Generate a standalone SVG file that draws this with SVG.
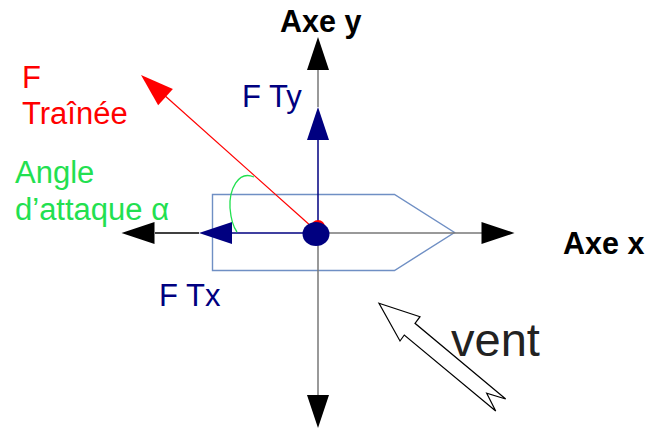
<svg xmlns="http://www.w3.org/2000/svg" width="648" height="428" viewBox="0 0 648 428">
<style>
.t{font-family:"Liberation Sans",Arial,sans-serif;font-size:31px}
.b{font-weight:bold;fill:#000;font-size:30.5px}
.navy{fill:#000080}
.red{fill:#ff0000}
.green{fill:#22e050}
.ln{fill:none;stroke-width:1.5}
</style>
<defs>
<path id="ah" d="M0,0 L-33,-11 L-33,11 Z"/>
</defs>
<rect width="648" height="428" fill="#fff"/>
<g id="boat">
<path d="M212.5,194.5 H394.5 L454.5,232.5 L394.5,270.5 H212.5 Z" fill="none" stroke="#6f8fc4" stroke-width="1.4"/>
</g>
<g id="connectors">
<line class="ln" x1="155" y1="233" x2="199" y2="233" stroke="#000"/>
<line class="ln" x1="230" y1="233" x2="317" y2="233" stroke="#000080"/>
<line class="ln" x1="317" y1="233" x2="482" y2="233" stroke="#777"/>
<line class="ln" x1="318" y1="70" x2="318" y2="107" stroke="#777"/>
<line class="ln" x1="318" y1="138" x2="318" y2="233" stroke="#000080"/>
<line class="ln" x1="318" y1="233" x2="318" y2="396" stroke="#777"/>
<line x1="163" y1="94" x2="312" y2="227" stroke="#ff0000" stroke-width="1.2"/>
<use href="#ah" transform="translate(121.5,233) rotate(180)" fill="#000"/>
<use href="#ah" transform="translate(514.5,233)" fill="#000"/>
<use href="#ah" transform="translate(199,233) rotate(180)" fill="#000080"/>
<use href="#ah" transform="translate(318,37) rotate(-90)" fill="#000"/>
<use href="#ah" transform="translate(318,107) rotate(-90)" fill="#000080"/>
<use href="#ah" transform="translate(318,428) rotate(90)" fill="#000"/>
<use href="#ah" transform="translate(141,75) rotate(222)" fill="#ff0000"/>
<path d="M254,177 C238,170 229,190 230,208 C231,220 234,228 237,232" fill="none" stroke="#22e050" stroke-width="1.3"/>
</g>
<g id="origin">
<circle cx="318" cy="227" r="7" fill="#ff0000"/>
<ellipse cx="316" cy="234" rx="13.5" ry="12" fill="#000080"/>
</g>
<g id="wind">
<path d="M379,303.3 L420,316.7 L415,323.3 L505.7,399 L486.7,393.3 L495.7,411 L404.3,335 L400,341 Z" fill="#fff" stroke="#000" stroke-width="1.2" stroke-linejoin="miter"/>
<text x="451" y="356" font-family="Liberation Sans,Arial,sans-serif" font-size="47" fill="#222">vent</text>
</g>
<g id="labels">
<text class="t b" x="280" y="32">Axe y</text>
<text class="t b" x="563" y="254">Axe x</text>
<text class="t navy" x="242" y="107">F Ty</text>
<text class="t navy" x="159" y="306">F Tx</text>
<text class="t red" x="22" y="88">F</text>
<text class="t red" x="22" y="124">Traînée</text>
<text class="t green" x="15" y="183">Angle</text>
<text class="t green" x="15" y="220">d’attaque α</text>
</g>
</svg>
